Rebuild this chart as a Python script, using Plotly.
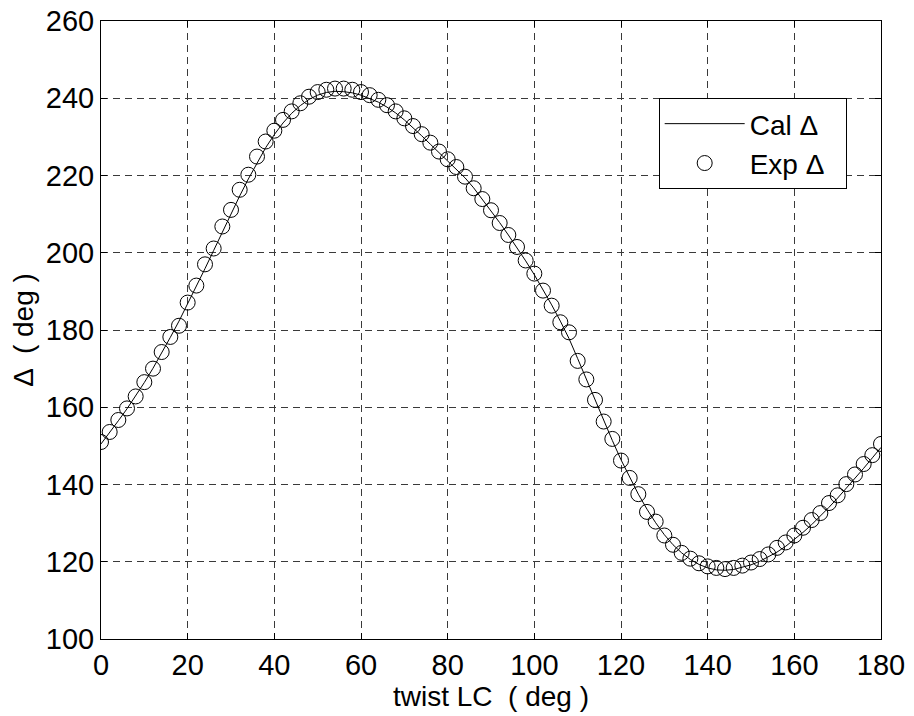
import plotly.graph_objects as go

# x positions (twist LC, deg) for both series
twist_deg = list(range(0, 181, 2))

exp_delta = [
    151.0, 153.6, 156.7, 159.7, 162.8, 166.5, 170.0, 174.3, 178.2, 181.1,
    187.1, 191.5, 197.0, 201.1, 206.8, 211.1, 216.3, 220.2, 224.9, 228.8,
    231.6, 234.4, 236.6, 238.7, 240.4, 241.6, 242.2, 242.5, 242.5, 242.2,
    241.6, 240.8, 239.6, 238.2, 236.6, 234.8, 232.8, 230.7, 228.5, 226.2,
    224.2, 222.2, 219.7, 216.7, 213.9, 211.0, 207.7, 204.6, 201.5, 198.0,
    194.6, 190.2, 186.3, 182.0, 179.4, 172.0, 167.2, 161.9, 156.3, 151.8,
    146.2, 141.7, 137.5, 132.9, 130.4, 126.8, 124.4, 122.3, 120.8, 119.6,
    118.8, 118.4, 118.1, 118.4, 119.0, 119.8, 120.7, 121.9, 123.6, 125.0,
    126.8, 128.8, 130.8, 132.6, 135.2, 137.2, 140.1, 142.6, 145.3, 147.6,
    150.5,
]

# Calculated Δ (deg)
cal_delta = [
    150.5, 153.4, 156.5, 159.6, 162.9, 166.4, 170.1, 174.0, 178.1, 182.3,
    186.7, 191.2, 195.9, 200.6, 205.4, 210.1, 214.7, 219.1, 223.3, 227.2,
    230.6, 233.6, 236.1, 238.1, 239.7, 240.8, 241.5, 241.8, 241.7, 241.4,
    240.8, 240.0, 239.0, 237.7, 236.2, 234.4, 232.4, 230.3, 228.1, 225.9,
    223.8, 221.7, 219.4, 216.8, 213.9, 210.9, 207.8, 204.6, 201.3, 197.9,
    194.3, 190.5, 186.5, 182.3, 177.8, 172.6, 167.2, 161.9, 156.5, 151.4,
    146.4, 141.8, 137.5, 133.6, 130.1, 127.0, 124.4, 122.3, 120.6, 119.3,
    118.4, 117.9, 117.8, 118.0, 118.5, 119.2, 120.1, 121.2, 122.5, 124.0,
    125.7, 127.6, 129.6, 131.8, 134.1, 136.5, 139.0, 141.6, 144.2, 146.9,
    149.6,
]

x_ticks = [0, 20, 40, 60, 80, 100, 120, 140, 160, 180]
y_ticks = [100, 120, 140, 160, 180, 200, 220, 240, 260]

FONT = "Arial, Liberation Sans, sans-serif"

fig = go.Figure()
fig.add_trace(go.Scatter(
    x=twist_deg, y=cal_delta, mode="lines", name="Cal Δ\u00a0\u00a0",
    line=dict(color="black", width=1),
))
fig.add_trace(go.Scatter(
    x=twist_deg, y=exp_delta, mode="markers", name="Exp Δ\u00a0\u00a0",
    marker=dict(symbol="circle-open", size=15, color="black",
                line=dict(color="black", width=1)),
))

axis_common = dict(
    showline=True, linecolor="black", linewidth=1, mirror="ticks",
    ticks="inside", ticklen=6, tickcolor="black",
    showgrid=True, gridcolor="#3a3a3a", gridwidth=1, griddash="7px,5px",
    zeroline=False, automargin=False,
    tickfont=dict(family=FONT, size=29, color="black"),
)

fig.update_xaxes(
    range=[0, 180], tickvals=x_ticks,
    title=dict(text="twist LC  ( deg )", font=dict(family=FONT, size=28, color="black"), standoff=1),
    **axis_common,
)
fig.update_yaxes(
    range=[100, 260], tickvals=y_ticks,
    title=dict(text="Δ  ( deg )", font=dict(family=FONT, size=28, color="black"), standoff=4),
    ticklabelstandoff=0,
    **axis_common,
)

fig.update_layout(
    width=914, height=716,
    margin=dict(l=101, r=33, t=21, b=77),
    paper_bgcolor="white", plot_bgcolor="white",
    font=dict(family=FONT, size=28, color="black"),
    showlegend=True,
    legend=dict(
        x=0.956, y=0.8755, xanchor="right", yanchor="top",
        bgcolor="white", bordercolor="black", borderwidth=1,
        font=dict(family=FONT, size=28, color="black"),
        itemwidth=80, tracegroupgap=0,
    ),
)

fig.write_html("out.html")
